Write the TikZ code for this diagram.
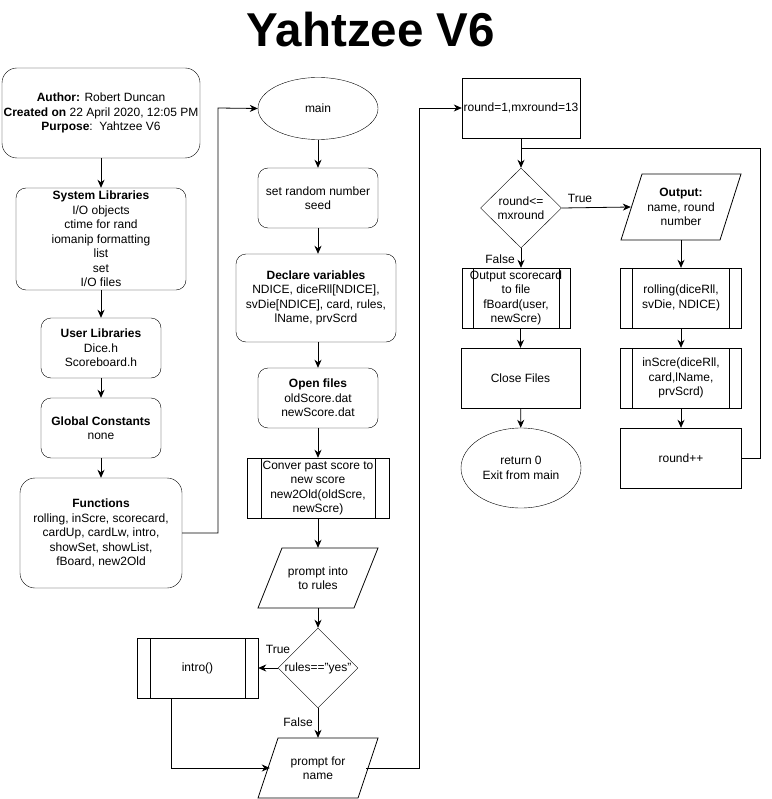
\documentclass[tikz,border=0pt]{standalone}
\usepackage{fontspec}
\setmainfont{Liberation Sans}
\usetikzlibrary{shapes.geometric,arrows.meta}
\tikzset{
  x=1pt,y=-1pt,
  every node/.style={font=\fontsize{12}{14.5}\selectfont, align=center, inner sep=0pt},
  rbox/.style={draw, rectangle, rounded corners=10pt},
  pbox/.style={draw, rectangle},
  ppbox/.style={draw, rectangle, path picture={
      \draw ([xshift=#1]path picture bounding box.north west) -- ([xshift=#1]path picture bounding box.south west);
      \draw ([xshift=-#1]path picture bounding box.north east) -- ([xshift=-#1]path picture bounding box.south east);}},
  ppbox/.default=12pt,
  dia/.style={draw, diamond, minimum width=80pt, minimum height=80pt, inner sep=0pt},
  oval/.style={draw, ellipse, inner sep=0pt},
  para/.style={rectangle, minimum height=60pt},
  arr/.style={-{Stealth[length=8pt,width=7pt,inset=2.5pt]}, line width=0.8pt},
  ln/.style={line width=0.8pt},
  lbl/.style={font=\fontsize{12}{14}\selectfont}
}
\begin{document}
\begin{tikzpicture}
\useasboundingbox (0,0) rectangle (771,799);
% title
\node[font=\fontsize{47.5}{47.5}\selectfont\bfseries] (title) at (371,30) {Yahtzee V6};
% left column
\node[rbox, rounded corners=15pt, minimum width=198pt, minimum height=90pt] (author) at (101,113)
  {\textbf{Author:} Robert Duncan\\\textbf{Created on} 22 April 2020, 12:05 PM\\\textbf{Purpose}:\ \ Yahtzee V6};
\node[rbox, minimum width=170pt, minimum height=102pt] (syslib) at (101,239)
  {\textbf{System Libraries}\\I/O objects\\ctime for rand\\iomanip formatting\\list\\set\\I/O files};
\node[rbox, minimum width=120pt, minimum height=60pt] (userlib) at (101,348)
  {\textbf{User Libraries}\\Dice.h\\Scoreboard.h};
\node[rbox, minimum width=120pt, minimum height=60pt] (glob) at (101,428)
  {\textbf{Global Constants}\\none};
\node[rbox, rounded corners=15pt, minimum width=162pt, minimum height=110pt] (func) at (101,533)
  {\textbf{Functions}\\rolling, inScre, scorecard,\\cardUp, cardLw, intro,\\showSet, showList,\\fBoard, new2Old};
% middle column
\node[oval, minimum width=120pt, minimum height=62pt] (main) at (318,108.5) {main};
\node[rbox, minimum width=120pt, minimum height=60pt] (seed) at (318,198) {set random number\\seed};
\node[rbox, minimum width=160pt, minimum height=88pt] (decl) at (316,298)
  {\textbf{Declare variables}\\NDICE, diceRll[NDICE],\\svDie[NDICE], card, rules,\\lName, prvScrd};
\node[rbox, minimum width=120pt, minimum height=60pt] (open) at (318,398)
  {\textbf{Open files}\\oldScore.dat\\newScore.dat};
\node[ppbox=14pt, minimum width=142pt, minimum height=60pt] (conv) at (318,488)
  {Conver past score to\\new score\\new2Old(oldScre,\\newScre)};
\node[para, minimum width=96pt] (prompt1) at (318,578) {prompt into\\to rules};
\draw[ln, shift={(prompt1.center)}] (-36,-30) -- (60,-30) -- (36,30) -- (-60,30) -- cycle;
\node[dia, label={[font=\fontsize{12}{14}\selectfont]center:rules=="yes"}] (dia1) at (318,668) {};
\node[ppbox=13pt, minimum width=121pt, minimum height=60pt] (intro) at (197.5,668) {intro()};
\node[para, minimum width=96pt] (prompt2) at (318,768) {prompt for\\name};
\draw[ln, shift={(prompt2.center)}] (-40,-30) -- (60,-30) -- (40,30) -- (-60,30) -- cycle;
% right part
\node[pbox, minimum width=118pt, minimum height=60pt] (init) at (521,108) {round=1,mxround=13};
\node[dia, minimum width=81pt, label={[font=\fontsize{12}{14.5}\selectfont, align=center]center:round<=\\mxround}] (dia2) at (521,208) {};
\node[rectangle, minimum width=100pt, minimum height=66pt] (outp) at (681,207) {\textbf{Output:}\\name, round\\number};
\draw[ln, shift={(outp.center)}] (-39,-33) -- (60,-33) -- (39,33) -- (-60,33) -- cycle;
\node[ppbox=11pt, minimum width=108pt, minimum height=60pt] (outsc) at (516,298)
  {Output scorecard\\to file\\fBoard(user,\\newScre)};
\node[pbox, minimum width=119pt, minimum height=60pt] (close) at (520.5,378) {Close Files};
\node[oval, minimum width=120pt, minimum height=80pt] (ret) at (521,468) {return 0\\Exit from main};
\node[ppbox=12pt, minimum width=121pt, minimum height=60pt] (roll) at (681,298) {rolling(diceRll,\\svDie, NDICE)};
\node[ppbox=12pt, minimum width=121pt, minimum height=60pt] (insc) at (681,378) {inScre(diceRll,\\card,lName,\\prvScrd)};
\node[pbox, minimum width=121pt, minimum height=60pt] (rpp) at (681,458) {round++};
% coordinates
\coordinate (c1) at (218,533);
\coordinate (c2) at (218,108);
\coordinate (c3) at (171,768);
\coordinate (c4) at (419,768);
\coordinate (c5) at (419,108);
\coordinate (c6) at (760,458);
\coordinate (c7) at (760,148);
\coordinate (c8) at (521,148);
% connectors
\draw[arr] (author) -- (syslib);
\draw[arr] (syslib) -- (userlib);
\draw[arr] (userlib) -- (glob);
\draw[arr] (glob) -- (func);
\draw[arr] (func.east) -- (c1) -- (c2) -- (main.west);
\draw[arr] (main) -- (seed.north -| main);
\draw[arr] (seed.south) -- (seed.south |- decl.north);
\draw[arr] (decl.south -| open) -- (open.north);
\draw[arr] (open) -- (conv);
\draw[arr] (conv) -- (prompt1);
\draw[arr] (prompt1) -- (dia1);
\draw[arr] (dia1.west) -- (intro.east);
\draw[arr] (dia1.south) -- (prompt2.north);
\draw[arr] (intro.south -| c3) -- (c3) -- (prompt2.west);
\draw[arr] (prompt2.east) -- (c4) -- (c5) -- (init.west);
\draw[arr] (init.south) -- (dia2.north);
\draw[ln] (rpp.east) -- (c6) -- (c7) -- (c8);
\draw[arr] (dia2.east) -- (outp.west);
\draw[arr] (dia2.south) -- (dia2.south |- outsc.north);
\draw[arr] (outsc.south -| close) -- (close.north);
\draw[arr] (close) -- (ret);
\draw[arr] (outp) -- (roll);
\draw[arr] (roll) -- (insc);
\draw[arr] (insc) -- (rpp);
% labels
\node[lbl] (t1) at (278,649) {True};
\node[lbl] (f1) at (298,722) {False};
\node[lbl] (t2) at (580,198) {True};
\node[lbl] (f2) at (500,259) {False};
\end{tikzpicture}
\end{document}
